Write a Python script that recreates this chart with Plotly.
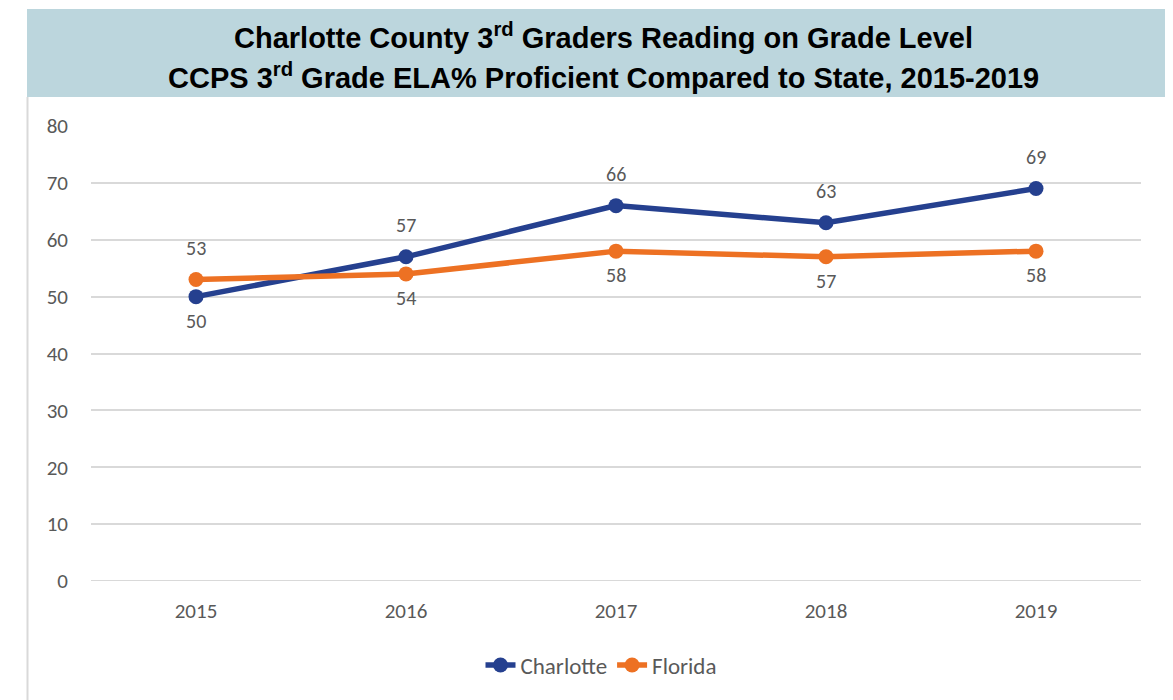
import plotly.graph_objects as go

years = ["2015", "2016", "2017", "2018", "2019"]
charlotte = [50, 57, 66, 63, 69]
florida = [53, 54, 58, 57, 58]
charlotte_pos = ["below", "above", "above", "above", "above"]
florida_pos = ["above", "below", "below", "below", "below"]
y_ticks = [0, 10, 20, 30, 40, 50, 60, 70, 80]

OFF = 8  # default page body margin
W, H = 1173 - OFF, 700 - OFF
L, R, T, B = 91, 1141, 126, 581  # plot area in page pixels

def px_x(px):
    return (px - L) / (R - L)

def px_y(py):
    return (B - py) / (B - T)

FONT = "Carlito, Lato, sans-serif"
LABEL_FONT = dict(family=FONT, size=20, color="#595959")
SHIFT = {"above": 32, "below": -24}

fig = go.Figure()
fig.add_trace(go.Scatter(
    x=years, y=charlotte, name="Charlotte", mode="lines+markers",
    line=dict(color="#25408F", width=5.5), marker=dict(size=15, color="#25408F"),
))
fig.add_trace(go.Scatter(
    x=years, y=florida, name="Florida", mode="lines+markers",
    line=dict(color="#ED7123", width=5.5), marker=dict(size=15, color="#ED7123"),
))

annotations = []
for vals, pos in ((charlotte, charlotte_pos), (florida, florida_pos)):
    for i, (v, p) in enumerate(zip(vals, pos)):
        annotations.append(dict(x=i, y=v, xref="x", yref="y", text=str(v), showarrow=False,
                                yshift=SHIFT[p], xanchor="center", yanchor="middle",
                                font=LABEL_FONT))

shapes = [
    dict(type="rect", xref="paper", yref="paper", x0=px_x(27), x1=px_x(1180),
         y0=px_y(97), y1=px_y(9), fillcolor="#BCD6DD", line=dict(width=0), layer="below"),
    dict(type="line", xref="paper", yref="paper", x0=px_x(27.5), x1=px_x(27.5),
         y0=px_y(97), y1=px_y(705), line=dict(color="#D9D9D9", width=2)),
    dict(type="line", xref="paper", yref="paper", x0=px_x(1170), x1=px_x(1170),
         y0=px_y(97), y1=px_y(705), line=dict(color="#D9D9D9", width=2)),
]

TFONT = dict(family="Liberation Sans, Arial, sans-serif", size=29, color="#000000")
annotations += [
    dict(text="<b>Charlotte County 3<sup>rd</sup> Graders Reading on Grade Level</b>",
         xref="paper", yref="paper", x=px_x(603), y=px_y(36), showarrow=False,
         xanchor="center", yanchor="middle", font=TFONT),
    dict(text="<b>CCPS 3<sup>rd</sup> Grade ELA% Proficient Compared to State, 2015-2019</b>",
         xref="paper", yref="paper", x=px_x(603), y=px_y(76), showarrow=False,
         xanchor="center", yanchor="middle", font=TFONT),
]

fig.update_layout(
    width=W, height=H,
    margin=dict(l=L - OFF, r=1173 - R, t=T - OFF, b=700 - B),
    paper_bgcolor="white", plot_bgcolor="white",
    shapes=shapes, annotations=annotations,
    showlegend=True,
    legend=dict(orientation="h", x=px_x(601), y=px_y(665), xanchor="center", yanchor="middle",
                font=dict(family=FONT, size=23, color="#595959"),
                traceorder="normal"),
    xaxis=dict(type="category", range=[-0.5, 4.5], showgrid=False, showline=False,
               ticks="", tickfont=dict(family=FONT, size=21, color="#595959"),
               ticklabelstandoff=15),
    yaxis=dict(range=[0, 80], tickvals=y_ticks, showgrid=True, gridcolor="#D9D9D9", gridwidth=2,
               zeroline=False, showline=False, ticks="",
               tickfont=dict(family=FONT, size=21, color="#595959"),
               ticklabelstandoff=22),
)
fig.add_hline(y=0, line=dict(color="#D9D9D9", width=2), layer="below")

fig.write_html("out.html")
